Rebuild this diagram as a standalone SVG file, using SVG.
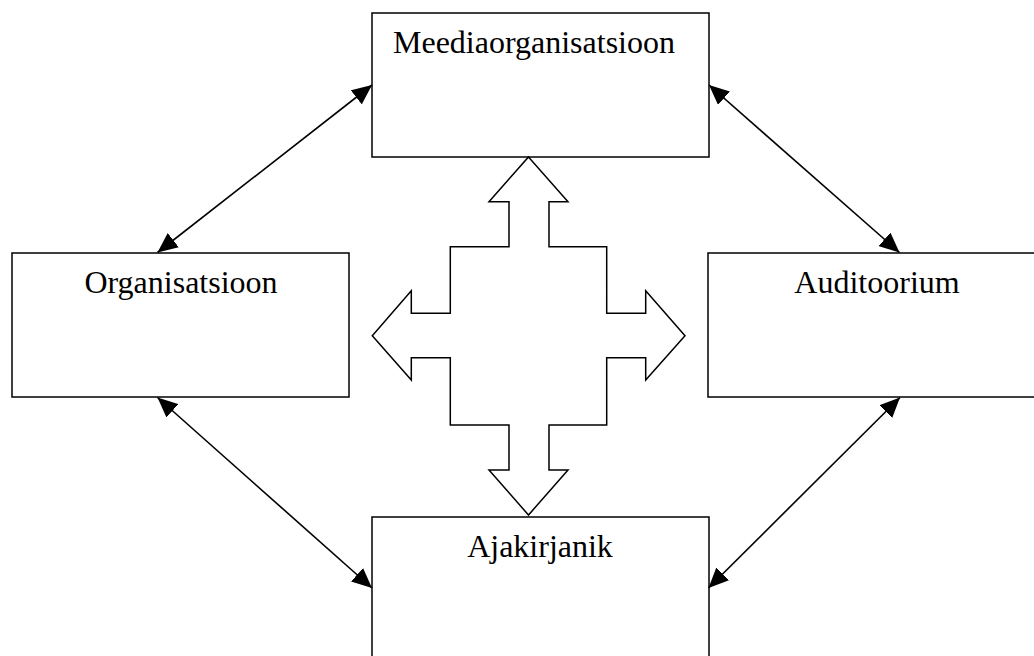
<svg xmlns="http://www.w3.org/2000/svg" width="1034" height="656" viewBox="0 0 1034 656">
<style>
.box{fill:#fff;stroke:#000;stroke-width:1.5}
.lbl{font-family:"Liberation Serif","Times New Roman",serif;font-size:32px;fill:#000;text-anchor:middle}
.con{stroke:#000;stroke-width:1.6;fill:none;marker-start:url(#ah);marker-end:url(#ah)}
</style>
<defs>
<marker id="ah" markerUnits="userSpaceOnUse" markerWidth="21" markerHeight="18" refX="20" refY="9" orient="auto-start-reverse" viewBox="0 0 21 18">
<path d="M0,0 L20,9 L0,18 z" fill="#000"/>
</marker>
</defs>
<rect width="1034" height="656" fill="#fff"/>
<g id="meediaorganisatsioon">
<rect class="box" x="372" y="13" width="337" height="144"/>
<text class="lbl" x="534" y="53">Meediaorganisatsioon</text>
</g>
<g id="organisatsioon">
<rect class="box" x="12" y="253" width="337" height="144"/>
<text class="lbl" x="181" y="293">Organisatsioon</text>
</g>
<g id="auditoorium">
<rect class="box" x="708" y="253" width="337" height="144"/>
<text class="lbl" x="877" y="293">Auditoorium</text>
</g>
<g id="ajakirjanik">
<rect class="box" x="372" y="517" width="337" height="144"/>
<text class="lbl" x="540" y="557">Ajakirjanik</text>
</g>
<g id="cross-arrow">
<polygon class="box" points="528.5,157 568,201.7 549,201.7 549,246.7 606.7,246.7 606.7,313.3 645.7,313.3 645.7,290.7 685,335.7 645.7,380 645.7,357.7 606.7,357.7 606.7,425 549,425 549,470 568,470 528.5,515 489,470 509,470 509,425 450.3,425 450.3,357.7 411.3,357.7 411.3,380 372.3,335.7 411.3,290.7 411.3,313.3 450.3,313.3 450.3,246.7 509,246.7 509,201.7 489,201.7"/>
</g>
<g id="connectors">
<line class="con" x1="157.5" y1="252.5" x2="372" y2="85"/>
<line class="con" x1="709" y1="85" x2="899.5" y2="252.5"/>
<line class="con" x1="157.5" y1="397.5" x2="372" y2="588"/>
<line class="con" x1="900" y1="397.5" x2="708.5" y2="588"/>
</g>
</svg>
